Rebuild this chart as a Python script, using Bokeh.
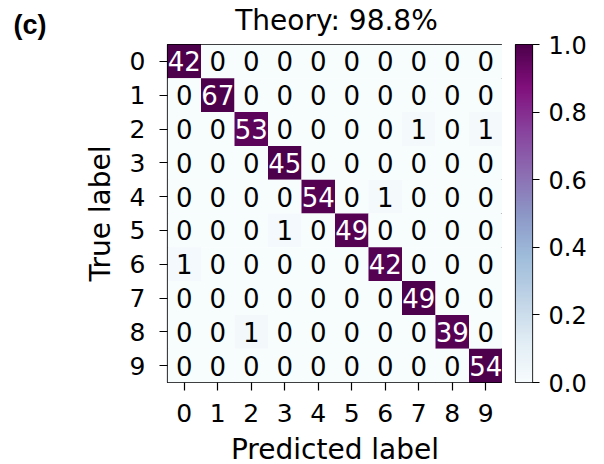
import numpy as np
from bokeh.plotting import figure
from bokeh.layouts import column, row
from bokeh.models import (ColumnDataSource, LinearColorMapper, FixedTicker,
                          Range1d, Label, PrintfTickFormatter)
from bokeh.palettes import BuPu9
from bokeh.embed import file_html
from bokeh.resources import INLINE
from bokeh.core.properties import value

classes = [0, 1, 2, 3, 4, 5, 6, 7, 8, 9]
counts = [
    [42, 0, 0, 0, 0, 0, 0, 0, 0, 0],
    [0, 67, 0, 0, 0, 0, 0, 0, 0, 0],
    [0, 0, 53, 0, 0, 0, 0, 1, 0, 1],
    [0, 0, 0, 45, 0, 0, 0, 0, 0, 0],
    [0, 0, 0, 0, 54, 0, 1, 0, 0, 0],
    [0, 0, 0, 1, 0, 49, 0, 0, 0, 0],
    [1, 0, 0, 0, 0, 0, 42, 0, 0, 0],
    [0, 0, 0, 0, 0, 0, 0, 49, 0, 0],
    [0, 0, 1, 0, 0, 0, 0, 0, 39, 0],
    [0, 0, 0, 0, 0, 0, 0, 0, 0, 54],
]
cbar_ticks = [0.0, 0.2, 0.4, 0.6, 0.8, 1.0]
title_text = "Theory: 98.8%"
panel_tag = "(c)"
x_label = "Predicted label"
y_label = "True label"

# BuPu colormap, light -> dark, linearly interpolated like matplotlib
base = list(reversed(BuPu9))
rgb = np.array([[int(h[i:i + 2], 16) for i in (1, 3, 5)] for h in base], dtype=float)
pos = np.linspace(0, 1, len(base))
t = np.linspace(0, 1, 256)
interp = np.stack([np.interp(t, pos, rgb[:, k]) for k in range(3)], axis=1)
palette = ["#%02x%02x%02x" % tuple(int(round(c)) for c in r) for r in interp]

xs, ys, fr, txt, tcol = [], [], [], [], []
for i, r in enumerate(counts):
    s = sum(r)
    for j, c in enumerate(r):
        f = c / s
        xs.append(classes[j]); ys.append(classes[i])
        fr.append(f); txt.append(str(c))
        tcol.append("white" if f > 0.5 else "black")
src = ColumnDataSource(dict(x=xs, y=ys, frac=fr, text=txt, tcol=tcol))

mapper = LinearColorMapper(palette=palette, low=0.0, high=1.0)
FONT = "DejaVu Sans"
TOP = 44

# ---- header (panel tag + title) over the matrix ----
HW = 502
head = figure(width=HW, height=TOP, x_range=Range1d(0, HW), y_range=Range1d(TOP, 0),
              output_backend="svg", toolbar_location=None, title=None,
              x_axis_type=None, y_axis_type=None, min_border=0)
head.outline_line_color = None
head.xgrid.grid_line_color = None
head.ygrid.grid_line_color = None
head.add_layout(Label(x=13, y=24, text=panel_tag, text_font="Liberation Sans",
                      text_font_style="bold", text_font_size="27px",
                      text_baseline="middle", text_color="black"))
head.add_layout(Label(x=336, y=20, text=title_text, text_font=FONT,
                      text_font_size="28px", text_align="center",
                      text_baseline="middle", text_color="black"))

# ---- matrix ----
p = figure(frame_width=335, frame_height=338, title=None,
           x_range=Range1d(-0.5, 9.5), y_range=Range1d(9.5, -0.5),
           output_backend="svg", toolbar_location=None,
           min_border_left=167, min_border_top=0, min_border_bottom=0, min_border_right=0)

p.rect("x", "y", width=1, height=1, source=src,
       fill_color={"field": "frac", "transform": mapper}, line_color=None)
p.text("x", "y", text="text", source=src, text_color="tcol",
       text_align="center", text_baseline="middle",
       text_font=value(FONT), text_font_size="26px")

for ax in (p.xaxis, p.yaxis):
    ax.ticker = FixedTicker(ticks=classes)
    ax.major_label_text_font = FONT
    ax.major_label_text_font_size = "25px"
    ax.major_label_text_color = "black"
    ax.axis_label_text_font = FONT
    ax.axis_label_text_font_size = "28px"
    ax.axis_label_text_font_style = "normal"
    ax.axis_label_text_color = "black"
    ax.major_tick_in = 0
    ax.major_tick_out = 8
    ax.major_tick_line_color = "black"
    ax.major_tick_line_width = 1.2
    ax.minor_tick_line_color = None
    ax.axis_line_color = None
p.xaxis.major_label_standoff = 13
p.yaxis.major_label_standoff = 14
p.xaxis.axis_label_standoff = 8
p.yaxis.axis_label_standoff = 10
p.xaxis.axis_label = x_label
p.yaxis.axis_label = y_label
p.yaxis.major_label_orientation = "horizontal"
p.xgrid.grid_line_color = None
p.ygrid.grid_line_color = None
p.outline_line_color = "black"
p.outline_line_width = 1.2

# ---- colour bar ----
cb = figure(frame_width=17, frame_height=338, title=None,
            x_range=Range1d(0, 1), y_range=Range1d(0, 1),
            output_backend="svg", toolbar_location=None,
            x_axis_type=None, y_axis_location="right",
            min_border_left=13, min_border_top=TOP, min_border_bottom=20, min_border_right=0)
cb.image(image=[np.linspace(0, 1, 256).reshape(256, 1)], x=0, y=0, dw=1, dh=1,
         color_mapper=mapper)
cb.yaxis.ticker = FixedTicker(ticks=cbar_ticks)
cb.yaxis.formatter = PrintfTickFormatter(format="%.1f")
cb.yaxis.major_label_text_font = FONT
cb.yaxis.major_label_text_font_size = "24px"
cb.yaxis.major_label_text_color = "black"
cb.yaxis.major_tick_in = 0
cb.yaxis.major_tick_out = 7
cb.yaxis.major_tick_line_color = "black"
cb.yaxis.major_tick_line_width = 1.2
cb.yaxis.minor_tick_line_color = None
cb.yaxis.axis_line_color = None
cb.yaxis.major_label_standoff = 9
cb.xgrid.grid_line_color = None
cb.ygrid.grid_line_color = None
cb.outline_line_color = "black"
cb.outline_line_width = 1.2

layout = row(column(head, row(p, spacing=0), spacing=0), cb, spacing=0)
open("out.html", "w").write(file_html(layout, INLINE))
